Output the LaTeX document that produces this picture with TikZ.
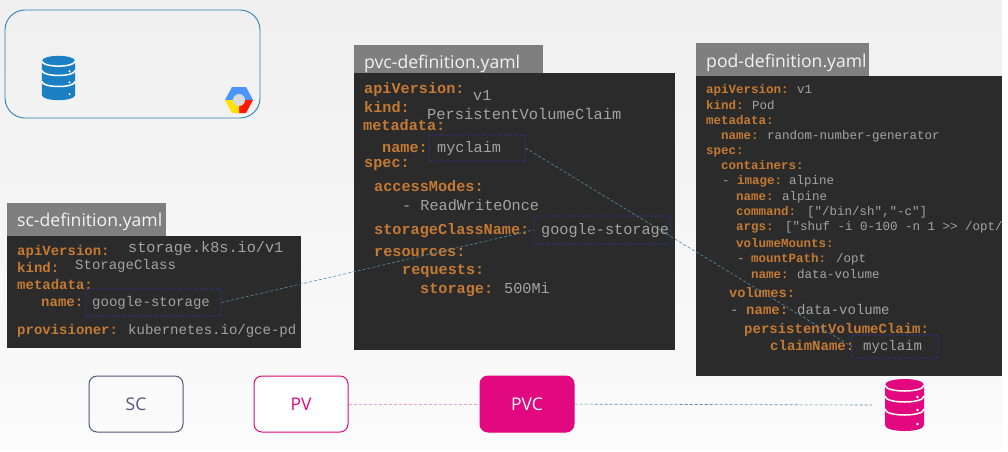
\documentclass[tikz,border=0pt]{standalone}
\usepackage{fontspec}
\setmainfont{Open Sans}
\setmonofont{Liberation Mono}
\definecolor{yamlpanel}{HTML}{2B2B2B}
\definecolor{yamltitle}{HTML}{7F7F7F}
\definecolor{yamlkeyc}{HTML}{C47A33}
\definecolor{yamlvalc}{HTML}{A3A3A3}
\definecolor{yamlbox}{HTML}{3A33A0}
\definecolor{kubeblue}{HTML}{1B7FC4}
\definecolor{kubepink}{HTML}{E2087F}
\definecolor{kubeslate}{HTML}{54557A}
\definecolor{kubeteal}{HTML}{4F8FA8}
\tikzset{
  panel/.style={rectangle, fill=yamlpanel, anchor=north west, inner sep=0pt},
  titlebar/.style={rectangle, fill=yamltitle, anchor=north west, inner sep=0pt},
  titletext/.style={anchor=base west, inner sep=0pt, text=white!95!black, font=\fontsize{17.6}{20}\selectfont},
  yamlkey/.style={anchor=base west, inner sep=0pt, text=yamlkeyc, font=\ttfamily\bfseries\fontsize{#1}{#1}\selectfont},
  yamlval/.style={anchor=base west, inner sep=0pt, text=yamlvalc, font=\ttfamily\fontsize{#1}{#1}\selectfont},
  namebox/.style={rectangle, draw=yamlbox, densely dashdotted, line width=0.8pt, rounded corners=2pt, inner sep=0pt},
  objbox/.style={rectangle, rounded corners=8pt, minimum width=94pt, minimum height=56pt, inner sep=0pt, line width=1pt, font=\fontsize{17.5}{20}\selectfont},
  linkline/.style={densely dashed, line width=0.6pt, draw=kubeteal},
  pics/dbicon/.style={code={
    \fill[#1] (-19.5,-20) .. controls (-19.5,-28) and (19.5,-28) .. (19.5,-20) -- (19.5,20)
      .. controls (19.5,28) and (-19.5,28) .. (-19.5,20) -- cycle;
    \draw[white, line width=1.5pt] (-19.5,-20) .. controls (-19.5,-12) and (19.5,-12) .. (19.5,-20);
    \draw[white, line width=1.5pt] (-19.5,-9) .. controls (-19.5,-1) and (19.5,-1) .. (19.5,-9);
    \draw[white, line width=1.5pt] (-19.5,4) .. controls (-19.5,12) and (19.5,12) .. (19.5,4);
    \fill[white] (13,-8) circle (1.3) (13,5) circle (1.3) (13,19) circle (1.3);
  }}
}
\begin{document}
\begin{tikzpicture}[x=1pt, y=-1pt]
  \useasboundingbox (0,0) rectangle (1008,451);
  \fill[white] (0,0) rectangle (1008,451);
  \shade[top color=black!6, bottom color=black!1.5] (0,0) rectangle (1002,448);

  % Storage box
  \node[rectangle, draw=kubeblue!80!gray, rounded corners=20pt, minimum width=255pt, minimum height=108pt, inner sep=0pt, line width=0.9pt] (storage) at (132.5,64) {};
  \pic[scale=0.85] at (58.5,78) {dbicon=kubeblue};

  % Cloud logo
  \fill[blue!60!cyan!70] (225,100) -- (232,87) -- (246,87) -- (253,100) -- (239,100) -- cycle;
  \fill[red!80!orange] (253,100) -- (246,113) -- (236,113) -- (239,100) -- cycle;
  \fill[yellow!85!orange] (225,100) -- (232,113) -- (239,113) -- (239,100) -- cycle;
  \fill[black!15] (239,100) circle (6);

  % SC definition
  \node[titlebar, minimum width=159pt, minimum height=33pt] (sctitle) at (7,203) {};
  \node[panel, minimum width=294pt, minimum height=112pt] (scpanel) at (7,236) {};
  \node[titletext] (sctitletext) at (17,226) {sc-definition.yaml};
  \node[yamlkey=14] (scapi) at (17,255) {apiVersion:};
  \node[yamlval=15.2] (scapival) at (128,252) {storage.k8s.io/v1};
  \node[yamlkey=14] (sckind) at (17,272) {kind:};
  \node[yamlval=14] (sckindval) at (75,269) {StorageClass};
  \node[yamlkey=14] (scmeta) at (17,289) {metadata:};
  \node[yamlkey=14] (scname) at (41,306) {name:};
  \node[yamlval=14] (scnameval) at (92,306) {google-storage};
  \node[yamlkey=14] (scprov) at (17,334) {provisioner:};
  \node[yamlval=14] (scprovval) at (128,334) {kubernetes.io/gce-pd};
  \node[namebox, minimum width=135pt, minimum height=27pt] (scbox) at (153.5,302.5) {};

  % PVC definition
  \node[titlebar, minimum width=189pt, minimum height=33pt] (pvctitle) at (354,45) {};
  \node[panel, minimum width=321pt, minimum height=277pt] (pvcpanel) at (354,73) {};
  \node[titletext] (pvctitletext) at (364,68) {pvc-definition.yaml};
  \node[yamlkey=15.2] (pvcapi) at (364,93) {apiVersion:};
  \node[yamlval=15.2] (pvcapival) at (473,100) {v1};
  \node[yamlkey=15.2] (pvckind) at (364,112) {kind:};
  \node[yamlval=15.4] (pvckindval) at (427,119) {PersistentVolumeClaim};
  \node[yamlkey=15.2] (pvcmeta) at (363,130) {metadata:};
  \node[yamlkey=15.2] (pvcname) at (382,152) {name:};
  \node[yamlval=15.2] (pvcnameval) at (437,152) {myclaim};
  \node[yamlkey=15.2] (pvcspec) at (364,167) {spec:};
  \node[yamlkey=15.2] (pvcaccess) at (374,191) {accessModes:};
  \node[yamlval=15.2] (pvcaccessval) at (402,210) {- ReadWriteOnce};
  \node[yamlkey=15.2] (pvcclass) at (374,234) {storageClassName:};
  \node[yamlval=15.2] (pvcclassval) at (541,234) {google-storage};
  \node[yamlkey=15.2] (pvcres) at (374,256) {resources:};
  \node[yamlkey=15.2] (pvcreq) at (402,274) {requests:};
  \node[yamlkey=15.2] (pvcsize) at (420,293) {storage:};
  \node[yamlval=15.2] (pvcsizeval) at (504,293) {500Mi};
  \node[namebox, minimum width=96pt, minimum height=26pt] (pvcbox) at (477,148) {};
  \node[namebox, minimum width=136pt, minimum height=28pt] (classbox) at (602,230) {};

  % Pod definition
  \node[titlebar, minimum width=173pt, minimum height=33pt] (podtitle) at (696,43) {};
  \node[panel, minimum width=306pt, minimum height=300pt] (podpanel) at (696,76) {};
  \node[titletext] (podtitletext) at (706,67) {pod-definition.yaml};
  \node[yamlkey=12.5] (podapi) at (706,93) {apiVersion:};
  \node[yamlval=12.5] (podapival) at (797,93) {v1};
  \node[yamlkey=12.5] (podkind) at (706,109) {kind:};
  \node[yamlval=12.5] (podkindval) at (752,109) {Pod};
  \node[yamlkey=12.5] (podmeta) at (706,124) {metadata:};
  \node[yamlkey=12.5] (podname) at (721,139) {name:};
  \node[yamlval=12.5] (podnameval) at (767,139) {random-number-generator};
  \node[yamlkey=12.5] (podspec) at (706,154) {spec:};
  \node[yamlkey=12.5] (podcont) at (721,169) {containers:};
  \node[yamlval=12.5] (poddash) at (722,184) {-};
  \node[yamlkey=12.5] (podimage) at (737,184) {image:};
  \node[yamlval=12.5] (podimageval) at (789,184) {alpine};
  \node[yamlkey=12.5] (podcname) at (736,200) {name:};
  \node[yamlval=12.5] (podcnameval) at (782,200) {alpine};
  \node[yamlkey=12.5] (podcmd) at (736,215) {command:};
  \node[yamlval=12.5] (podcmdval) at (807,215) {["/bin/sh","-c"]};
  \node[yamlkey=12.5] (podargs) at (736,230) {args:};
  \node[yamlval=12.5] (podargsval) at (785,230) {["shuf -i 0-100 -n 1 >> /opt/};
  \node[yamlkey=12.5] (podmounts) at (736,247) {volumeMounts:};
  \node[yamlval=12.5] (podmdash) at (737,262) {-};
  \node[yamlkey=12.5] (podpath) at (751,262) {mountPath:};
  \node[yamlval=12.5] (podpathval) at (836,262) {/opt};
  \node[yamlkey=12.5] (podmname) at (751,278) {name:};
  \node[yamlval=12.5] (podmnameval) at (797,278) {data-volume};
  \node[yamlkey=13.7] (podvols) at (729,297) {volumes:};
  \node[yamlval=14] (podvdash) at (730,314) {-};
  \node[yamlkey=14] (podvname) at (746,314) {name:};
  \node[yamlval=14] (podvnameval) at (797,314) {data-volume};
  \node[yamlkey=14] (podpvc) at (744,333) {persistentVolumeClaim:};
  \node[yamlkey=14] (podclaim) at (770,350) {claimName:};
  \node[yamlval=14] (podclaimval) at (863,350) {myclaim};
  \node[namebox, minimum width=86pt, minimum height=23pt] (claimbox) at (895,346.5) {};

  % Links between definitions
  \draw[linkline] (scbox.east) -- (classbox.west);
  \draw[linkline] (pvcbox.east) -- (claimbox.west);

  % Objects
  \node[objbox, draw=kubeslate, text=kubeslate] (sc) at (136,404) {SC};
  \node[objbox, draw=kubepink, text=kubepink, fill=white] (pv) at (301,404) {PV};
  \node[objbox, draw=kubepink, fill=kubepink, text=white] (pvc) at (527,404) {PVC};
  \pic at (904.5,405) {dbicon=kubepink};
  \coordinate (poddb) at (872,405);
  \draw[densely dashed, line width=0.6pt, draw=kubepink!40] (pv) -- (pvc);
  \draw[linkline] (pvc) -- (poddb);
\end{tikzpicture}
\end{document}
